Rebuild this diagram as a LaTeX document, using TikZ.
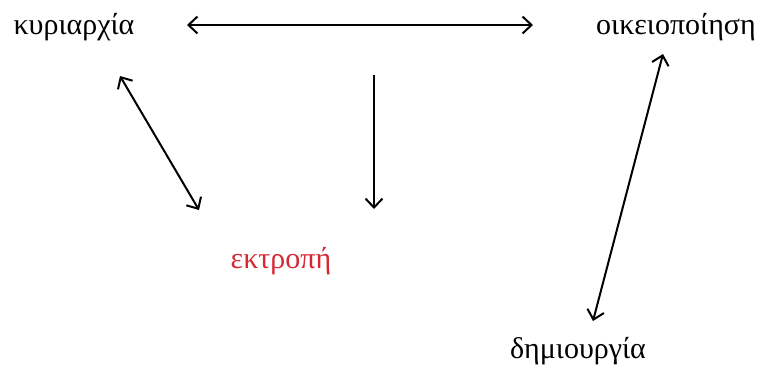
\documentclass[tikz,border=0pt]{standalone}
\usepackage{fontspec}
\setmainfont{Liberation Serif}
\usetikzlibrary{arrows.meta}
\definecolor{ektrred}{RGB}{214,40,50}
\tikzset{
  lbl/.style={font=\fontsize{30}{34}\selectfont, inner sep=0pt},
  tip/.tip={Straight Barb[length=9pt,width=17pt,line width=2pt]},
  dbl/.style={line width=2pt, tip-tip},
  sgl/.style={line width=2pt, -tip}
}
\begin{document}
\begin{tikzpicture}[x=1pt, y=-1pt]
  \useasboundingbox (0,0) rectangle (772,376);

  %% Begriffe
  \node[lbl] (kyr) at (74, 27) {κυριαρχία};
  \node[lbl] (oik) at (676, 27) {οικειοποίηση};
  \node[lbl, text=ektrred] (ekt) at (281, 261) {εκτροπή};
  \node[lbl] (dim) at (578, 351) {δημιουργία};

  %% Endpunkte der Pfeile
  \coordinate (kyrE) at (187, 25);
  \coordinate (oikW) at (533, 25);
  \coordinate (midT) at (374, 75);
  \coordinate (midB) at (374, 209);
  \coordinate (kyrS) at (120, 76);
  \coordinate (ektN) at (199, 210);
  \coordinate (oikS) at (663, 54);
  \coordinate (dimN) at (593, 321);

  %% Pfeile
  \draw[dbl] (kyrE) -- (oikW);
  \draw[sgl] (midT) -- (midB);
  \draw[dbl] (kyrS) -- (ektN);
  \draw[dbl] (oikS) -- (dimN);
\end{tikzpicture}
\end{document}
